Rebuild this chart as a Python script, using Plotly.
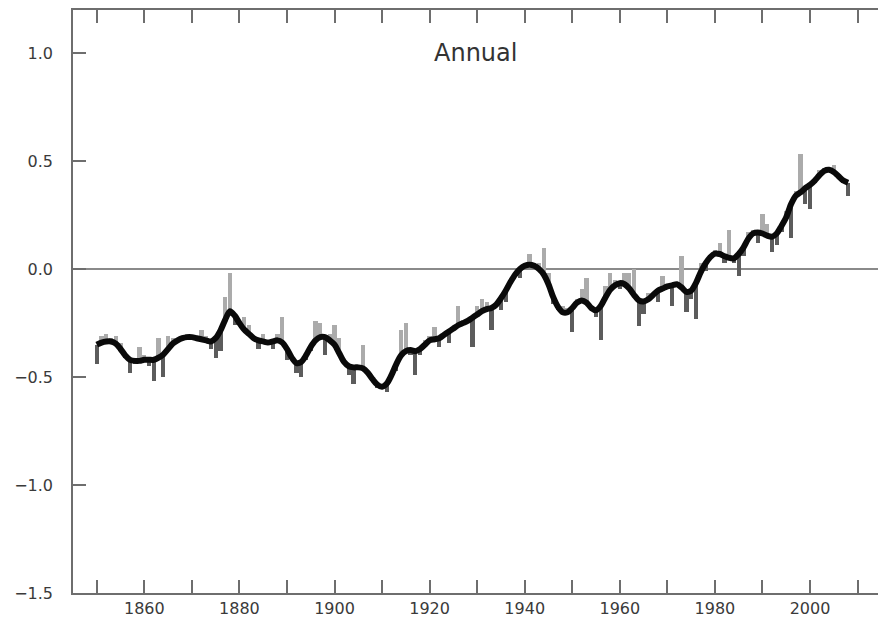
import plotly.graph_objects as go

# Global mean temperature anomaly (deg C), annual values and smoothed curve
years = list(range(1850, 2009))

annual = [
    -0.44, -0.31, -0.30, -0.32, -0.31, -0.34, -0.41, -0.48, -0.44, -0.36,  # 1850s
    -0.40, -0.45, -0.52, -0.32, -0.50, -0.31, -0.32, -0.33, -0.32, -0.30,  # 1860s
    -0.31, -0.33, -0.28, -0.31, -0.37, -0.41, -0.38, -0.13, -0.02, -0.26,  # 1870s
    -0.24, -0.22, -0.26, -0.32, -0.37, -0.30, -0.34, -0.37, -0.30, -0.22,  # 1880s
    -0.42, -0.41, -0.48, -0.50, -0.42, -0.38, -0.24, -0.25, -0.40, -0.30,  # 1890s
    -0.26, -0.32, -0.42, -0.49, -0.53, -0.45, -0.35, -0.47, -0.52, -0.55,  # 1900s
    -0.53, -0.57, -0.50, -0.47, -0.28, -0.25, -0.40, -0.49, -0.40, -0.33,  # 1910s
    -0.31, -0.27, -0.36, -0.31, -0.34, -0.27, -0.17, -0.26, -0.25, -0.36,  # 1920s
    -0.17, -0.14, -0.15, -0.28, -0.17, -0.19, -0.15, -0.05, -0.03, -0.04,  # 1930s
    0.02, 0.07, 0.03, 0.03, 0.10, -0.02, -0.16, -0.19, -0.17, -0.18,       # 1940s
    -0.29, -0.14, -0.09, -0.04, -0.19, -0.22, -0.33, -0.08, -0.02, -0.05,  # 1950s
    -0.09, -0.02, -0.02, 0.00, -0.265, -0.21, -0.11, -0.12, -0.15, -0.03,  # 1960s
    -0.07, -0.17, -0.06, 0.06, -0.20, -0.14, -0.23, 0.03, -0.01, 0.06,     # 1970s
    0.09, 0.12, 0.03, 0.18, 0.03, -0.03, 0.06, 0.17, 0.18, 0.12,           # 1980s
    0.255, 0.21, 0.08, 0.11, 0.17, 0.27, 0.145, 0.36, 0.535, 0.30,         # 1990s
    0.28, 0.40, 0.46, 0.47, 0.45, 0.48, 0.43, 0.40, 0.34,                  # 2000s
]

smoothed = [
    -0.35, -0.34, -0.335, -0.335, -0.345, -0.37, -0.40, -0.42, -0.425, -0.425,
    -0.42, -0.42, -0.42, -0.41, -0.395, -0.37, -0.345, -0.33, -0.32, -0.315,
    -0.315, -0.32, -0.325, -0.33, -0.335, -0.32, -0.285, -0.235, -0.195, -0.215,
    -0.25, -0.28, -0.30, -0.32, -0.33, -0.335, -0.34, -0.335, -0.33, -0.34,
    -0.37, -0.41, -0.435, -0.43, -0.40, -0.36, -0.33, -0.315, -0.315, -0.33,
    -0.35, -0.39, -0.43, -0.45, -0.455, -0.455, -0.46, -0.48, -0.51, -0.535,
    -0.545, -0.53, -0.49, -0.44, -0.40, -0.38, -0.375, -0.38, -0.37, -0.35,
    -0.33, -0.325, -0.32, -0.305, -0.29, -0.275, -0.26, -0.25, -0.24, -0.225,
    -0.21, -0.195, -0.185, -0.18, -0.165, -0.135, -0.10, -0.06, -0.025, 0.0,
    0.015, 0.02, 0.015, 0.0, -0.025, -0.07, -0.13, -0.175, -0.20, -0.20,
    -0.18, -0.155, -0.145, -0.155, -0.18, -0.19, -0.17, -0.13, -0.095, -0.075,
    -0.065, -0.07, -0.09, -0.12, -0.145, -0.15, -0.14, -0.12, -0.10, -0.09,
    -0.08, -0.075, -0.07, -0.085, -0.105, -0.10, -0.065, -0.015, 0.025, 0.055,
    0.072, 0.07, 0.06, 0.052, 0.05, 0.07, 0.10, 0.14, 0.165, 0.17,
    0.165, 0.155, 0.15, 0.165, 0.20, 0.24, 0.30, 0.34, 0.355, 0.375,
    0.39, 0.41, 0.435, 0.455, 0.46, 0.45, 0.43, 0.41, 0.40,
]

x_tick_vals = list(range(1850, 2011, 10))
x_tick_text = [str(v) if v % 20 == 0 else "" for v in x_tick_vals]
y_tick_vals = [1.0, 0.5, 0.0, -0.5, -1.0, -1.5]
y_tick_text = ["1.0", "0.5", "0.0", "\u22120.5", "\u22121.0", "\u22121.5"]
Y_RANGE = [-1.5, 1.2]

LIGHT = "#ababab"
DARK = "#5c5c5c"
AXIS = "#6e6e6e"
TEXT = "#3a3a3a"
FONT = "DejaVu Sans, Liberation Sans, Arial, sans-serif"

# Departures of each year from the smoothed curve, shaded by sign
diffs = [a - s for a, s in zip(annual, smoothed)]
bar_colors = [LIGHT if d >= 0 else DARK for d in diffs]

fig = go.Figure()
fig.add_trace(go.Bar(
    x=years, y=diffs, base=smoothed,
    marker=dict(color=bar_colors, line=dict(width=0)),
    width=0.9, showlegend=False, hoverinfo="skip",
))
fig.add_trace(go.Scatter(
    x=years, y=smoothed, mode="lines",
    line=dict(color="#0a0a0a", width=6, shape="spline", smoothing=0.8),
    showlegend=False,
))

fig.add_annotation(
    text="Annual", xref="paper", yref="y", x=0.5006, y=1.0,
    showarrow=False, font=dict(family=FONT, size=24, color="#333333"),
    xanchor="center", yanchor="middle",
)

fig.update_layout(
    width=878, height=633, autosize=False,
    margin=dict(l=73, r=0, t=10, b=40, autoexpand=False),
    paper_bgcolor="white", plot_bgcolor="white",
    bargap=0,
    font=dict(family=FONT, color=TEXT),
    # right-hand tick marks only, no frame line on that side
    yaxis2=dict(
        overlaying="y", side="right", range=Y_RANGE, automargin=False,
        tickmode="array", tickvals=y_tick_vals, showticklabels=False,
        ticks="inside", ticklen=13, tickwidth=1.5, tickcolor=AXIS,
        showline=False, showgrid=False, zeroline=False,
    ),
)
fig.update_xaxes(
    range=[1845, 2014.3], automargin=False,
    tickmode="array", tickvals=x_tick_vals, ticktext=x_tick_text,
    ticks="inside", ticklen=13, tickwidth=1.5, tickcolor=AXIS,
    showline=True, linecolor=AXIS, linewidth=1.5, mirror="ticks",
    showgrid=False, zeroline=False,
    tickfont=dict(family=FONT, size=16, color=TEXT),
)
fig.update_yaxes(
    selector=dict(overlaying=None),
)
fig.layout.yaxis.update(
    range=Y_RANGE, automargin=False,
    tickmode="array", tickvals=y_tick_vals, ticktext=y_tick_text,
    ticks="inside", ticklen=13, tickwidth=1.5, tickcolor=AXIS,
    showline=True, linecolor=AXIS, linewidth=1.5, mirror=False,
    showgrid=False,
    zeroline=True, zerolinecolor="#8a8a8a", zerolinewidth=1.5,
    tickfont=dict(family=FONT, size=16, color=TEXT),
    ticklabelstandoff=15,
)

fig.write_html("out.html", config={"responsive": False})
